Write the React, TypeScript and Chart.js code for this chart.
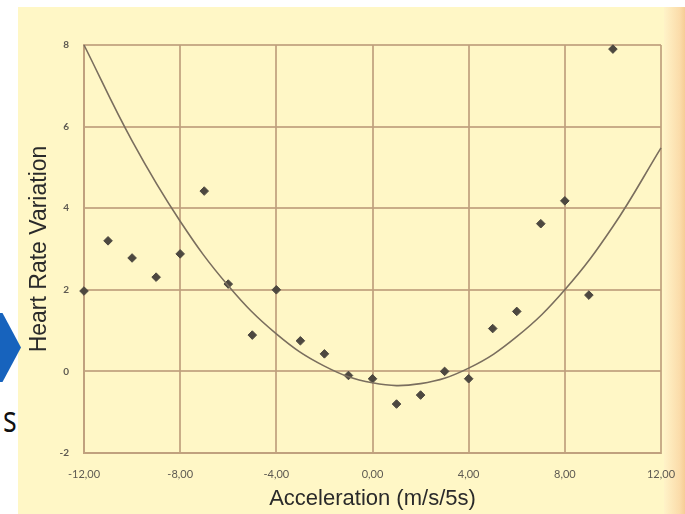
import React, { useEffect, useRef } from "react";
import { Chart, registerables } from "chart.js";

Chart.register(...registerables);

// Measured points (acceleration, heart rate variation)
const accel = [-12, -11, -10, -9, -8, -7, -6, -5, -4, -3, -2, -1, 0, 1, 2, 3, 4, 5, 6, 7, 8, 9, 10];
const hrv = [1.97, 3.2, 2.78, 2.31, 2.88, 4.42, 2.14, 0.89, 2.0, 0.75, 0.43, -0.1, -0.18, -0.8, -0.58, 0.0, -0.18, 1.05, 1.47, 3.62, 4.18, 1.87, 7.9];

// Trend line
const trendX = [-12, -10, -8, -6, -4, -2, 0, 2, 4, 6, 8, 10, 12];
const trendY = [8.0, 5.65, 3.68, 2.1, 0.92, 0.13, -0.28, -0.3, 0.08, 0.85, 2.0, 3.55, 5.48];

const xTickValues = [-12, -8, -4, 0, 4, 8, 12];
const xTickLabels = ["-12,00", "-8,00", "-4,00", "0,00", "4,00", "8,00", "12,00"];
const yTickValues = [-2, 0, 2, 4, 6, 8];
const yTickLabels = ["-2", "0", "2", "4", "6", "8"];

const xTitle = "Acceleration (m/s/5s)";
const yTitle = "Heart Rate Variation";

const GRID = "rgba(192,160,124,0.85)";

export default function App() {
  const ref = useRef<HTMLCanvasElement | null>(null);

  useEffect(() => {
    if (!ref.current) return;
    const chart = new Chart(ref.current, {
      type: "scatter",
      data: {
        datasets: [
          {
            type: "line",
            label: "trend",
            data: trendX.map((x, i) => ({ x, y: trendY[i] })),
            borderColor: "#7a6e5e",
            borderWidth: 1.6,
            pointRadius: 0,
            tension: 0.4,
            fill: false,
            clip: false as any,
          },
          {
            type: "scatter",
            label: "data",
            data: accel.map((x, i) => ({ x, y: hrv[i] })),
            pointStyle: "rectRot",
            pointRadius: 4.3,
            backgroundColor: "#4d4840",
            borderColor: "#4d4840",
            borderWidth: 1,
            clip: false as any,
          },
        ],
      },
      options: {
        animation: false,
        responsive: false,
        maintainAspectRatio: false,
        layout: { padding: { top: 45, right: 24, bottom: 0, left: 0 } },
        plugins: {
          legend: { display: false },
          tooltip: { enabled: false },
        },
        scales: {
          x: {
            type: "linear",
            min: -12,
            max: 12,
            afterFit: (s: any) => {
              s.height = 61;
              s.paddingLeft = 0;
              s.paddingRight = 0;
            },
            afterBuildTicks: (s: any) => {
              s.ticks = xTickValues.map((v) => ({ value: v }));
            },
            ticks: {
              padding: 15,
              color: "#5e5a52",
              font: { family: "Lato, 'Liberation Sans', sans-serif", size: 11 },
              maxRotation: 0,
              autoSkip: false,
              callback: (v: any) => {
                const i = xTickValues.indexOf(Number(v));
                return i >= 0 ? xTickLabels[i] : "";
              },
            },
            grid: { color: GRID, lineWidth: 2, drawTicks: false },
            border: { display: true, color: GRID, width: 2 },
            title: {
              display: true,
              text: xTitle,
              color: "#2a2a2a",
              font: { family: "'Liberation Sans', Arial, sans-serif", size: 22 },
              padding: { top: 0, bottom: 2 },
            },
          },
          y: {
            type: "linear",
            min: -2,
            max: 8,
            afterFit: (s: any) => {
              s.width = 84;
            },
            afterBuildTicks: (s: any) => {
              s.ticks = yTickValues.map((v) => ({ value: v }));
            },
            ticks: {
              padding: 15,
              color: "#5e5a52",
              font: { family: "Lato, 'Liberation Sans', sans-serif", size: 10, weight: "bold" },
              callback: (v: any) => {
                const i = yTickValues.indexOf(Number(v));
                return i >= 0 ? yTickLabels[i] : "";
              },
            },
            grid: { color: GRID, lineWidth: 2, drawTicks: false },
            border: { display: true, color: GRID, width: 2 },
            title: {
              display: true,
              text: yTitle,
              color: "#2a2a2a",
              font: { family: "'Liberation Sans', Arial, sans-serif", size: 23 },
              padding: { top: 26, bottom: 0 },
            },
          },
        },
      },
    });
    return () => chart.destroy();
  }, []);

  return (
    <div
      style={{
        position: "fixed",
        left: 0,
        top: 0,
        width: 685,
        height: 514,
        background: "#ffffff",
        overflow: "hidden",
      }}
    >
      <div
        style={{
          position: "absolute",
          left: 18,
          top: 7,
          width: 667,
          height: 507,
          background: "#fff7c6",
        }}
      />
      <div
        style={{
          position: "absolute",
          left: 664,
          top: 7,
          width: 21,
          height: 507,
          background: "linear-gradient(to right, #fff3c8, #fbdcaa 75%, #f6cc96)",
        }}
      />
      <div
        style={{
          position: "absolute",
          left: 0,
          top: 313,
          width: 21,
          height: 69,
          background: "#1763bd",
          clipPath: "polygon(0 0, 12% 0, 100% 50%, 12% 100%, 0 100%)",
        }}
      />
      <div
        style={{
          position: "absolute",
          left: 3,
          top: 399,
          fontFamily: "'Open Sans', 'Liberation Sans', sans-serif",
          fontSize: 36,
          lineHeight: "40px",
          color: "#111",
          transform: "scaleX(0.8)",
          transformOrigin: "left top",
        }}
      >
        s
      </div>
      <canvas
        ref={ref}
        width={685}
        height={514}
        style={{ position: "absolute", left: 0, top: 0, width: 685, height: 514 }}
      />
    </div>
  );
}
